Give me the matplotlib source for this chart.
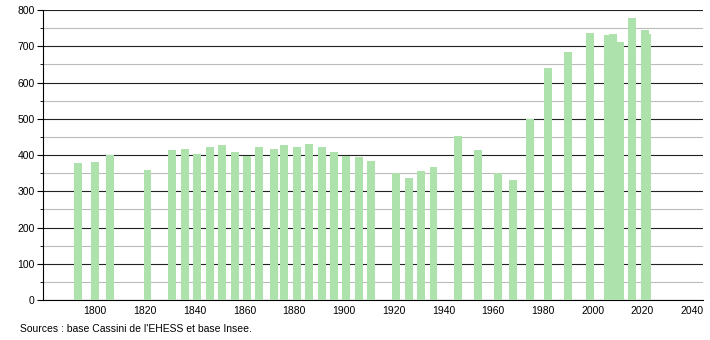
import matplotlib
matplotlib.use("Agg")
from matplotlib import pyplot as plt
from matplotlib.ticker import MultipleLocator

years = [1793, 1800, 1806, 1821, 1831, 1836, 1841, 1846, 1851, 1856,
         1861, 1866, 1872, 1876, 1881, 1886, 1891, 1896, 1901, 1906,
         1911, 1921, 1926, 1931, 1936, 1946, 1954, 1962, 1968, 1975,
         1982, 1990, 1999, 2006, 2008, 2011, 2016, 2021, 2022]
population = [378, 380, 400, 359, 414, 417, 403, 422, 428, 408,
              397, 422, 417, 428, 422, 430, 422, 408, 397, 394,
              383, 350, 337, 356, 367, 452, 414, 350, 331, 499,
              640, 684, 737, 731, 733, 711, 777, 745, 735]
x_ticks = [1800, 1820, 1840, 1860, 1880, 1900, 1920, 1940, 1960, 1980, 2000, 2020, 2040]
source_text = "Sources : base Cassini de l'EHESS et base Insee."

plt.rcParams['font.family'] = ['Liberation Sans', 'DejaVu Sans']

fig = plt.figure(figsize=(7.1, 3.4), dpi=100)
ax = fig.add_axes([0.0606, 0.1176, 0.93, 0.853])

ax.bar(years, population, width=3.2, color='#ade2ad', zorder=3)

ax.set_xlim(1779, 2044.5)
ax.set_ylim(0, 800)
ax.set_xticks(x_ticks)
ax.yaxis.set_major_locator(MultipleLocator(100))
ax.yaxis.set_minor_locator(MultipleLocator(50))

ax.grid(axis='y', which='major', color='#222222', linewidth=0.8, zorder=1)
ax.grid(axis='y', which='minor', color='#bbbbbb', linewidth=0.8, zorder=1)

for side in ['top', 'right']:
    ax.spines[side].set_visible(False)
ax.spines['left'].set_color('black')
ax.spines['bottom'].set_color('black')

ax.tick_params(axis='x', length=0, labelsize=7.5, pad=4)
ax.tick_params(axis='y', which='major', length=4, labelsize=7.5, pad=2)
ax.tick_params(axis='y', which='minor', length=2)

fig.text(20 / 710, 1 - 329 / 340, source_text, fontsize=7.5, va='center', ha='left')

fig.savefig("out.png", dpi=100)
